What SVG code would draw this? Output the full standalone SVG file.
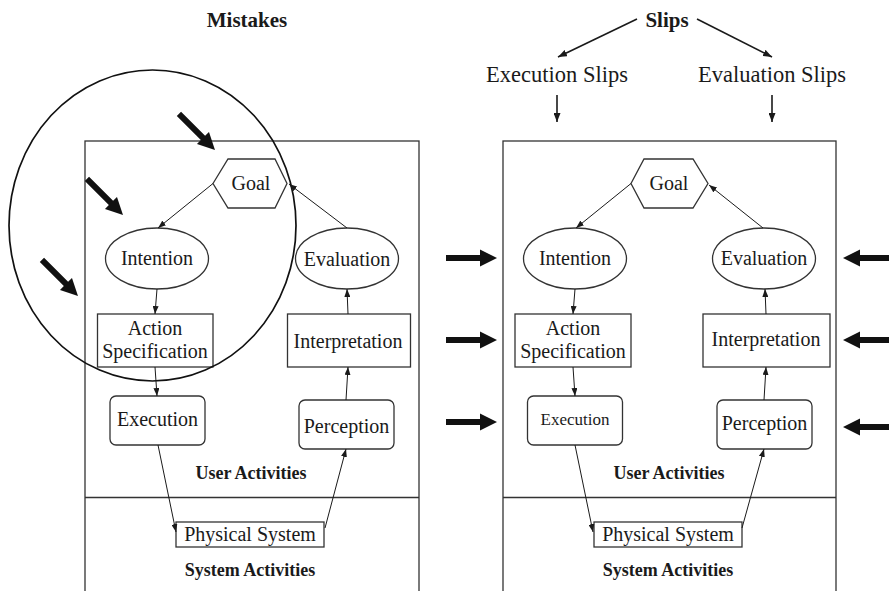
<svg xmlns="http://www.w3.org/2000/svg" width="889" height="591" viewBox="0 0 889 591">
  <style>
    text { font-family: "Liberation Serif", "Times New Roman", serif; fill: #1a1a1a; text-anchor: middle; }
    .lbl { font-size: 20px; }
    .hd { font-size: 21px; font-weight: bold; }
    .sec { font-size: 18px; font-weight: bold; }
    .sub { font-size: 22.5px; }
    .box { fill: #fff; stroke: #333; stroke-width: 1.3; }
    .frame { fill: none; stroke: #333; stroke-width: 1.3; }
    .edge { fill: none; stroke: #1a1a1a; stroke-width: 1; marker-end: url(#tip); }
    .edge2 { fill: none; stroke: #1a1a1a; stroke-width: 1.6; marker-end: url(#tip2); }
    .big { fill: #111; }
  </style>
  <defs>
    <marker id="tip" markerUnits="userSpaceOnUse" markerWidth="8" markerHeight="6" refX="8" refY="3" orient="auto">
      <path d="M0,0 L8,3 L0,6 z" fill="#1a1a1a"/>
    </marker>
    <marker id="tip2" markerUnits="userSpaceOnUse" markerWidth="9" markerHeight="7" refX="9" refY="3.5" orient="auto">
      <path d="M0,0 L9,3.5 L0,7 z" fill="#1a1a1a"/>
    </marker>
    <!-- heavy pointer, tip at origin pointing along +x -->
    <path id="fat" d="M-51,-3 L-17,-3 L-17,-8.5 L0,0 L-17,8.5 L-17,3 L-51,3 z"/>
  </defs>

  <!-- headings -->
  <g id="mistakes"><text class="hd" x="247" y="27">Mistakes</text></g>
  <g id="slips"><text class="hd" x="667" y="27">Slips</text></g>
  <g id="execution-slips"><text class="sub" x="557" y="82">Execution Slips</text></g>
  <g id="evaluation-slips"><text class="sub" x="772" y="82">Evaluation Slips</text></g>

  <!-- left panel frame -->
  <g id="left-frame">
    <rect class="frame" x="85" y="141" width="334" height="470"/>
    <line class="frame" x1="85" y1="497.5" x2="419" y2="497.5"/>
    <text class="sec" x="251" y="479">User Activities</text>
    <text class="sec" x="250" y="576">System Activities</text>
  </g>

  <!-- right panel frame -->
  <g id="right-frame">
    <rect class="frame" x="503" y="141" width="333" height="470"/>
    <line class="frame" x1="503" y1="497.5" x2="836" y2="497.5"/>
    <text class="sec" x="669" y="479">User Activities</text>
    <text class="sec" x="668" y="576">System Activities</text>
  </g>

  <!-- left panel nodes -->
  <g id="goal-l">
    <polygon class="box" points="213,183.5 228,159 275,159 287,183.5 275,208 228,208"/>
    <text class="lbl" x="251" y="190">Goal</text>
  </g>
  <g id="intention-l">
    <ellipse class="box" cx="157" cy="258.5" rx="51.5" ry="30.5"/>
    <text class="lbl" x="157" y="265">Intention</text>
  </g>
  <g id="evaluation-l">
    <ellipse class="box" cx="347" cy="258.5" rx="51.5" ry="30.5"/>
    <text class="lbl" x="347" y="266">Evaluation</text>
  </g>
  <g id="action-l">
    <rect class="box" x="97.5" y="314" width="115.5" height="53"/>
    <text class="lbl" x="155" y="335">Action</text>
    <text class="lbl" x="155" y="358">Specification</text>
  </g>
  <g id="interpretation-l">
    <rect class="box" x="287.5" y="314" width="123" height="53"/>
    <text class="lbl" x="348" y="348">Interpretation</text>
  </g>
  <g id="execution-l">
    <rect class="box" x="110" y="396" width="95" height="49" rx="6"/>
    <text class="lbl" x="157.5" y="426">Execution</text>
  </g>
  <g id="perception-l">
    <rect class="box" x="299" y="400" width="95" height="49" rx="6"/>
    <text class="lbl" x="346.5" y="433">Perception</text>
  </g>
  <g id="physical-l">
    <rect class="box" x="176" y="522" width="148" height="25"/>
    <text class="lbl" x="250" y="541">Physical System</text>
  </g>

  <!-- right panel nodes -->
  <g id="goal-r">
    <polygon class="box" points="631,183.5 644,159 693,159 708,183.5 693,208 644,208"/>
    <text class="lbl" x="669" y="190">Goal</text>
  </g>
  <g id="intention-r">
    <ellipse class="box" cx="575" cy="258.5" rx="51.5" ry="30.5"/>
    <text class="lbl" x="575" y="265">Intention</text>
  </g>
  <g id="evaluation-r">
    <ellipse class="box" cx="764" cy="258.5" rx="51.5" ry="30.5"/>
    <text class="lbl" x="764" y="265">Evaluation</text>
  </g>
  <g id="action-r">
    <rect class="box" x="515" y="314" width="116" height="53"/>
    <text class="lbl" x="573" y="335">Action</text>
    <text class="lbl" x="573" y="358">Specification</text>
  </g>
  <g id="interpretation-r">
    <rect class="box" x="703" y="314" width="127" height="53"/>
    <text class="lbl" x="766" y="346">Interpretation</text>
  </g>
  <g id="execution-r">
    <rect class="box" x="527.5" y="396" width="95" height="49" rx="6"/>
    <text x="575" y="425" style="font-size:17px">Execution</text>
  </g>
  <g id="perception-r">
    <rect class="box" x="717" y="400" width="95" height="49" rx="6"/>
    <text class="lbl" x="764.5" y="430">Perception</text>
  </g>
  <g id="physical-r">
    <rect class="box" x="594" y="522" width="148" height="25"/>
    <text class="lbl" x="668" y="541">Physical System</text>
  </g>

  <!-- mistakes region -->
  <g id="mistake-zone">
    <ellipse cx="152.5" cy="225.5" rx="143.5" ry="155.5" fill="none" stroke="#111" stroke-width="1.7"/>
  </g>

  <!-- connectors -->
  <g id="connectors">
    <path class="edge" d="M213,183.5 L158,228"/>
    <path class="edge" d="M347,228 L289,184"/>
    <path class="edge" d="M157,289 L155,314"/>
    <path class="edge" d="M155,367 L157,396"/>
    <path class="edge" d="M158,445 L176,532"/>
    <path class="edge" d="M325,528 L346,449"/>
    <path class="edge" d="M346,400 L348,367"/>
    <path class="edge" d="M348,314 L347,289"/>

    <path class="edge" d="M631,183.5 L576,228"/>
    <path class="edge" d="M763,228 L709,185"/>
    <path class="edge" d="M575,289 L573,314"/>
    <path class="edge" d="M573,367 L575,396"/>
    <path class="edge" d="M575,445 L593,532"/>
    <path class="edge" d="M742,528 L764,449"/>
    <path class="edge" d="M764,400 L766,367"/>
    <path class="edge" d="M766,314 L765,289"/>

    <path class="edge2" d="M637,19 L558,57"/>
    <path class="edge2" d="M697,19 L772,57"/>
    <path class="edge2" d="M557,95 L557,122"/>
    <path class="edge2" d="M772,95 L772,122"/>

    <!-- heavy pointers -->
    <use href="#fat" class="big" transform="translate(215,150) rotate(45)"/>
    <use href="#fat" class="big" transform="translate(123,215) rotate(45)"/>
    <use href="#fat" class="big" transform="translate(78,296) rotate(45)"/>
    <use href="#fat" class="big" transform="translate(497,258)"/>
    <use href="#fat" class="big" transform="translate(497,340)"/>
    <use href="#fat" class="big" transform="translate(497,422)"/>
    <use href="#fat" class="big" transform="translate(843,258) rotate(180)"/>
    <use href="#fat" class="big" transform="translate(843,340) rotate(180)"/>
    <use href="#fat" class="big" transform="translate(843,427) rotate(180)"/>
  </g>
</svg>
